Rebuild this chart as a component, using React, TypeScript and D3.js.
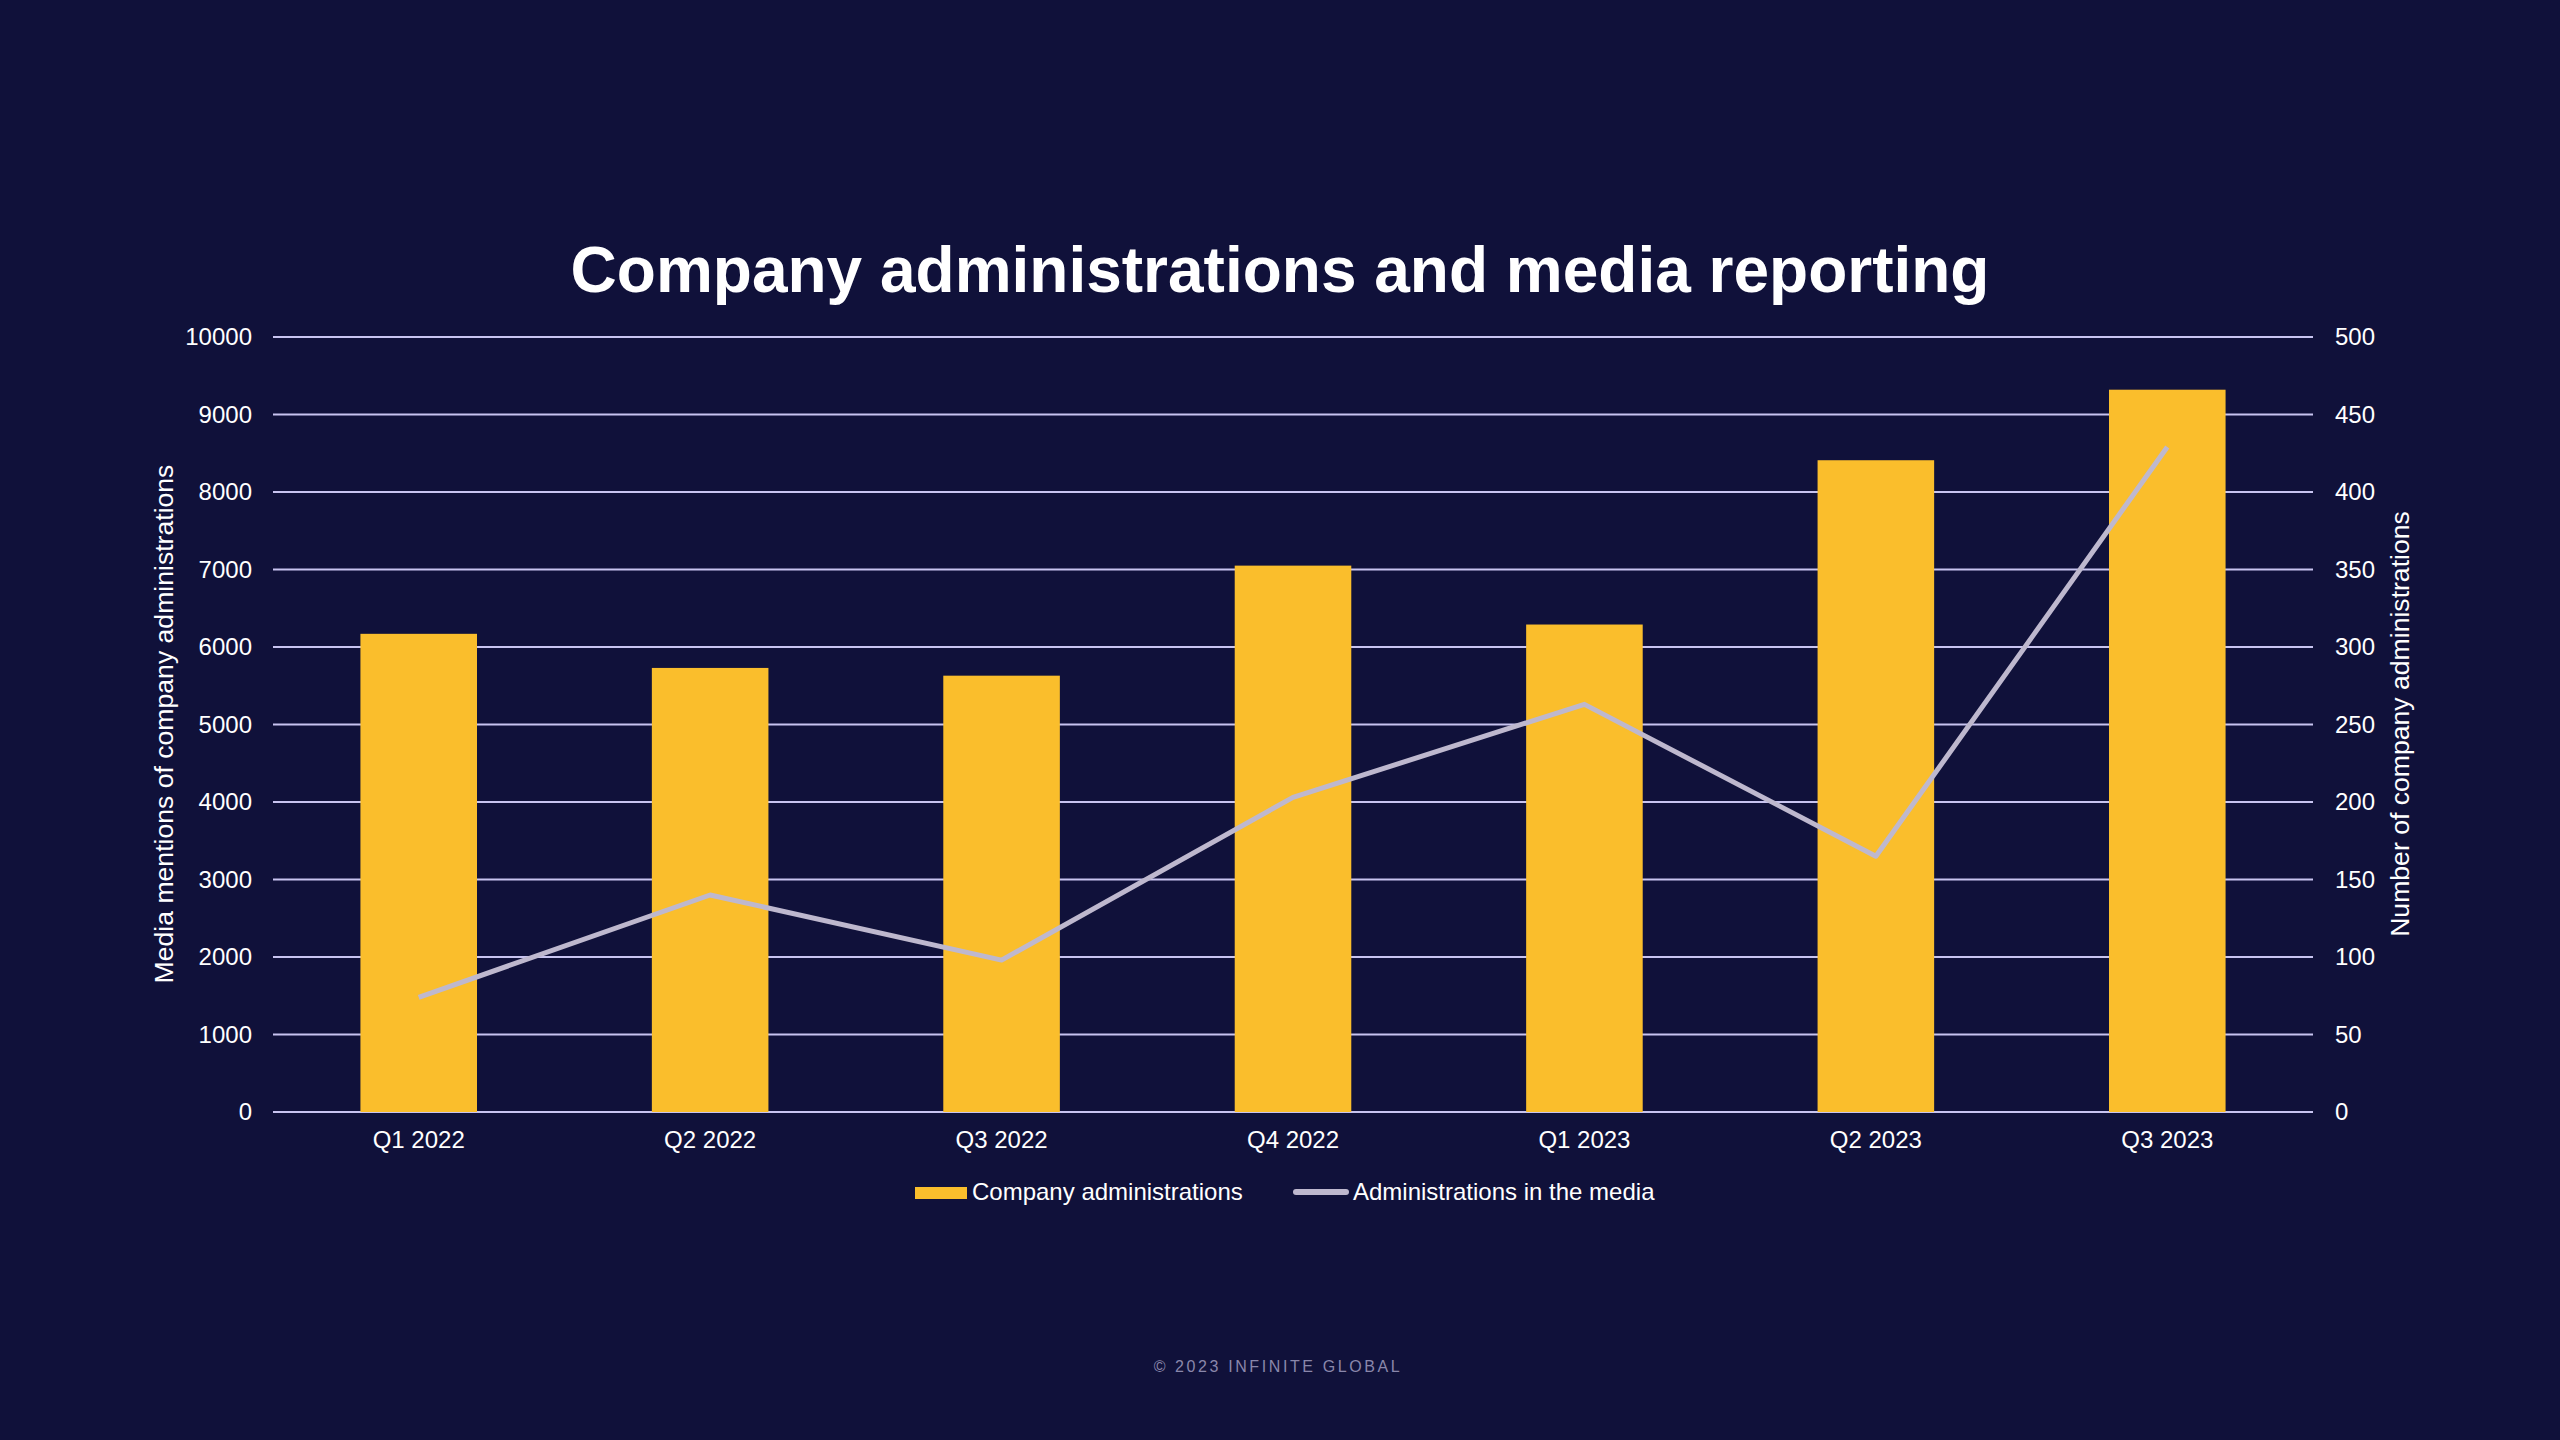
import React, { useEffect, useRef } from "react";
import * as d3 from "d3";

const quarters = ["Q1 2022", "Q2 2022", "Q3 2022", "Q4 2022", "Q1 2023", "Q2 2023", "Q3 2023"];
// media mentions (left axis) shown as bars
const mediaMentions = [6170, 5730, 5630, 7050, 6290, 8410, 9320];
// number of administrations (right axis) shown as a line
const administrations = [74, 140, 98, 203, 263, 165, 429];
const leftTicks = [0, 1000, 2000, 3000, 4000, 5000, 6000, 7000, 8000, 9000, 10000];
const rightTicks = [0, 50, 100, 150, 200, 250, 300, 350, 400, 450, 500];

const W = 2560;
const H = 1440;
const margin = { top: 337, right: 247, bottom: 328, left: 273 };
const BG = "#10113a";
const BAR = "#fabe2c";
const GRID = "#c8c4f0";
const LINE = "#beb8ce";
const FONT = "'Liberation Sans', Arial, Helvetica, sans-serif";

const App = () => {
  const gLeft = useRef(null);
  const gRight = useRef(null);
  const gBottom = useRef(null);

  const x = d3
    .scaleBand()
    .domain(quarters)
    .range([margin.left, W - margin.right])
    .paddingInner(0.6)
    .paddingOuter(0.3);
  const yL = d3.scaleLinear([0, 10000], [H - margin.bottom, margin.top]);
  const yR = d3.scaleLinear([0, 500], [H - margin.bottom, margin.top]);
  const cx = (q: string) => (x(q) as number) + x.bandwidth() / 2;
  const line = d3
    .line<number>()
    .x((_, i) => cx(quarters[i]))
    .y((d) => yR(d));

  useEffect(() => {
    document.body.style.margin = "0";
    document.body.style.background = BG;
    const style = (g: any) => {
      g.select(".domain").remove();
      g.selectAll(".tick line").remove();
      g.selectAll("text")
        .attr("fill", "#ffffff")
        .style("font-family", FONT)
        .style("font-size", "24px");
    };
    d3.select(gLeft.current)
      .call(d3.axisLeft(yL).tickValues(leftTicks).tickSize(0).tickPadding(21).tickFormat(d3.format("d")) as any)
      .call(style);
    d3.select(gRight.current)
      .call(d3.axisRight(yR).tickValues(rightTicks).tickSize(0).tickPadding(22).tickFormat(d3.format("d")) as any)
      .call(style);
    d3.select(gBottom.current)
      .call(d3.axisBottom(x).tickSize(0).tickPadding(19) as any)
      .call(style);
  }, []);

  return (
    <svg
      width={W}
      height={H}
      style={{ position: "absolute", left: 0, top: 0, display: "block" }}
      fontFamily={FONT}
    >
      <rect x={0} y={0} width={W} height={H} fill={BG} />
      <text x={1280} y={292} textAnchor="middle" fill="#ffffff" fontSize={64} fontWeight="bold">
        Company administrations and media reporting
      </text>

      <g stroke={GRID} strokeWidth={2}>
        {leftTicks.map((t) => (
          <line key={t} x1={margin.left} x2={W - margin.right} y1={yL(t)} y2={yL(t)} />
        ))}
      </g>

      <g fill={BAR}>
        {mediaMentions.map((v, i) => (
          <rect
            key={quarters[i]}
            x={x(quarters[i])}
            y={yL(v)}
            width={x.bandwidth()}
            height={yL(0) - yL(v)}
          />
        ))}
      </g>

      <path d={line(administrations) || ""} fill="none" stroke={LINE} strokeWidth={5} strokeLinejoin="round" />

      <g ref={gLeft} transform={`translate(${margin.left},0)`} />
      <g ref={gRight} transform={`translate(${W - margin.right},0)`} />
      <g ref={gBottom} transform={`translate(0,${H - margin.bottom})`} />

      <text
        transform={`translate(173,724) rotate(-90)`}
        textAnchor="middle"
        fill="#ffffff"
        fontSize={26.6}
      >
        Media mentions of company administrations
      </text>
      <text
        transform={`translate(2409,724) rotate(-90)`}
        textAnchor="middle"
        fill="#ffffff"
        fontSize={26.6}
      >
        Number of company administrations
      </text>

      <g>
        <rect x={915} y={1187} width={52} height={12} fill={BAR} />
        <text x={972} y={1200} fill="#ffffff" fontSize={24}>
          Company administrations
        </text>
        <line x1={1296} x2={1346} y1={1192} y2={1192} stroke={LINE} strokeWidth={6} strokeLinecap="round" />
        <text x={1353} y={1200} fill="#ffffff" fontSize={24}>
          Administrations in the media
        </text>
      </g>

      <text x={1278} y={1372} textAnchor="middle" fill="#8a87ab" fontSize={16} letterSpacing={2.6}>
        © 2023 INFINITE GLOBAL
      </text>
    </svg>
  );
};

export default App;
